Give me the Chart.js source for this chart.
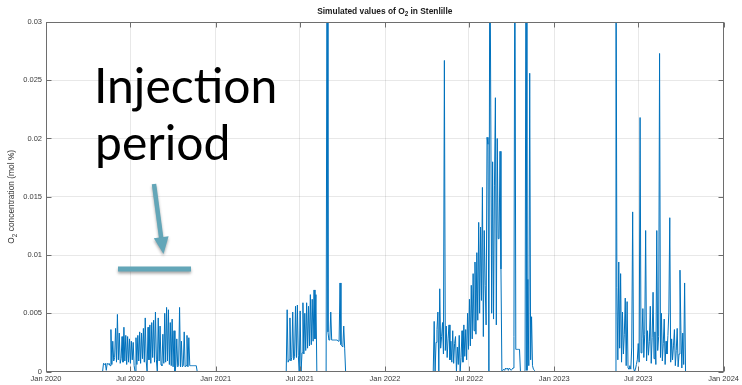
<!DOCTYPE html>
<html>
<head>
<meta charset="utf-8">
<title>Simulated values of O2 in Stenlille</title>
<script src="https://cdn.jsdelivr.net/npm/chart.js@4.4.1/dist/chart.umd.min.js"></script>
<style>
  html, body { margin: 0; padding: 0; background: #fff; }
  #wrap { position: relative; width: 742px; height: 385px; }
</style>
</head>
<body>
<div id="wrap"><canvas id="o2chart" width="742" height="385"></canvas></div>
<script>
// x is days since 1 Jan 2020, samples every 2 days inside each active period
const STEP_DAYS = 2;

const xTickDays = [0, 182, 366, 547, 731, 912, 1096, 1277, 1461];
const xTickLabels = ['Jan 2020', 'Jul 2020', 'Jan 2021', 'Jul 2021', 'Jan 2022',
                     'Jul 2022', 'Jan 2023', 'Jul 2023', 'Jan 2024'];
const yTickValues = [0, 0.005, 0.01, 0.015, 0.02, 0.025, 0.03];
const yTickLabels = ['0', '0.005', '0.01', '0.015', '0.02', '0.025', '0.03'];

// O2 in units of 1e-3 mol %, one array per active period
const start2020 = 122;
const o2Seg2020 = [
  0, 0.7, 0.6, 0.7, 0.1, 0.7, 0.6, 0.7, 0.5, 3.6,
  0.6, 2.6, 0.9, 1.2, 3.7, 0.8, 4.9, 1.0, 3.3, 0.7,
  1.1, 3.0, 0.8, 3.8, 0.9, 3.1, 0.6, 3.0, 0.8, 2.8,
  0.7, 2.6, 1.0, 2.5, 0.5, 0, 2.9, 0.6, 3.1, 0.9,
  3.4, 0.7, 3.3, 1.1, 3.7, 0.8, 4.6, 0.9, 0, 3.8,
  1.0, 4.0, 0.7, 4.2, 1.2, 4.4, 0.8, 5.1, 1.0, 0,
  4.6, 0.9, 3.9, 0.6, 0.5, 3.2, 0.7, 5.0, 0.8, 5.5,
  0.9, 5.3, 0.6, 4.2, 0.5, 4.5, 0.4, 3.5, 0, 0.5,
  2.8, 0.4, 0.5, 5.5, 0.4, 2.6, 0.4, 0.5, 3.4, 0.4,
  0.5, 3.1, 0.4, 2.9, 0.5, 0.5, 0.5, 0.5, 0.5, 0.5,
  0.5, 0.5, 0
];

const start2021 = 518;
const o2Seg2021 = [
  0, 5.3, 0.8, 1.0, 4.6, 0.9, 1.2, 5.1, 1.0, 1.3,
  5.6, 1.2, 5.7, 1.4, 0, 5.2, 0, 1.6, 5.9, 1.5,
  5.0, 1.8, 5.9, 2.0, 5.6, 2.2, 6.6, 2.3, 6.2, 2.6,
  7.0, 2.8, 6.6, 0, 0, 0, 0, 0, 0, 0,
  0, 0, 0, 0, 40, 3.4, 2.7, 2.7, 5.1, 2.7,
  2.7, 2.7, 2.7, 2.7, 2.7, 2.7, 2.6, 2.6, 7.6, 2.3,
  2.2, 2.1, 3.9, 2.0, 0
];

const start2022 = 835;
const o2Seg2022 = [
  0, 4.3, 0, 2.5, 3.6, 5.1, 0, 7.1, 2.0, 3.0,
  4.2, 1.5, 26.7, 1.8, 3.9, 1.2, 2.8, 4.0, 1.0, 2.6,
  0.8, 3.5, 0.7, 2.4, 3.0, 0, 2.1, 0.6, 3.1, 0,
  1.2, 3.5, 0.8, 4.0, 1.3, 3.6, 1.0, 5.0, 1.9, 6.2,
  2.2, 7.4, 2.8, 8.4, 3.5, 9.4, 3.2, 10.2, 4.4, 12.8,
  5.0, 12.4, 6.1, 15.8, 3.0, 12.1, 7.4, 4.0, 20.1, 19.5,
  0, 40, 22.7, 5.0, 18.0, 4.5, 16.0, 23.5, 4.0, 20.0,
  11.4, 11.4, 18.9, 8.8, 0, 0.1, 0.2, 0.1, 0.3, 0.2,
  0.3, 0.1, 0.3, 0.2, 0.1, 0.2, 0.3, 3.0, 40, 1.9,
  1.9, 1.9, 1.9, 1.9, 0, 0, 0, 0, 0, 0.1,
  40, 0.1, 7.9, 0.5, 25.6, 1.0, 4.7, 0.5, 0.2, 0.1,
  0, 0
];

const start2023 = 1227;
const o2Seg2023 = [
  0, 40, 7.2, 1.0, 9.4, 2.0, 8.4, 0.8, 5.1, 1.5,
  3.2, 6.3, 0.5, 6.0, 0.3, 0.2, 0.5, 0.2, 2.1, 13.7,
  0.3, 0, 0.2, 0.6, 1.0, 2.4, 0.8, 21.8, 1.6, 2.8,
  5.4, 1.2, 3.2, 12.1, 0.9, 3.5, 1.4, 2.6, 5.6, 0.7,
  2.9, 6.8, 1.1, 3.4, 0.6, 12.1, 1.8, 3.0, 27.3, 1.2,
  5.0, 0.9, 2.4, 4.5, 0.6, 2.6, 1.5, 3.1, 5.1, 13.2,
  0.8, 2.8, 1.0, 2.2, 3.6, 0.5, 1.8, 3.7, 0.4, 1.5,
  8.7, 3.5, 0.3, 3.3, 0.6, 7.6, 0
];

const segments = [
  [start2020, o2Seg2020],
  [start2021, o2Seg2021],
  [start2022, o2Seg2022],
  [start2023, o2Seg2023]
];

// flatten into one series; zero between the periods
const points = [{x: 0, y: 0}];
segments.forEach(([start, vals]) => {
  vals.forEach((v, i) => points.push({x: start + i * STEP_DAYS, y: v / 1000}));
});

const AXIS = '#6e6e6e';
const TEAL = '#63a6b8';

function setFont(ctx, size, bold) {
  ctx.font = (bold ? 'bold ' : '') + size + 'px "Liberation Sans", Arial, sans-serif';
}

// parts: [text, isSubscript]
function partsWidth(ctx, parts, size, bold) {
  let w = 0;
  parts.forEach(([t, sub]) => {
    setFont(ctx, sub ? size * 0.75 : size, bold);
    w += ctx.measureText(t).width;
  });
  return w;
}

function drawSub(ctx, parts, x, y, size, bold) {
  let cx = x;
  parts.forEach(([t, sub]) => {
    setFont(ctx, sub ? size * 0.75 : size, bold);
    ctx.fillText(t, cx, y + (sub ? size * 0.35 : 0));
    cx += ctx.measureText(t).width;
  });
}

const frame = {
  id: 'frame',
  afterDraw(chart) {
    const {ctx, chartArea: a, scales} = chart;
    const L = Math.round(a.left) + 0.5, R = Math.round(a.right) - 0.5;
    const T = Math.round(a.top) + 0.5, B = Math.round(a.bottom) - 0.5;
    ctx.save();

    // box and inward ticks
    ctx.strokeStyle = AXIS;
    ctx.lineWidth = 1;
    ctx.strokeRect(L, T, R - L, B - T);
    ctx.beginPath();
    xTickDays.forEach(d => {
      const px = Math.round(scales.x.getPixelForValue(d)) + 0.5;
      ctx.moveTo(px, B); ctx.lineTo(px, B - 5);
      ctx.moveTo(px, T); ctx.lineTo(px, T + 5);
    });
    yTickValues.forEach(v => {
      const py = Math.round(scales.y.getPixelForValue(v)) + 0.5;
      ctx.moveTo(L, py); ctx.lineTo(L + 5, py);
      ctx.moveTo(R, py); ctx.lineTo(R - 5, py);
    });
    ctx.stroke();

    // title
    ctx.fillStyle = '#1a1a1a';
    ctx.textBaseline = 'middle';
    ctx.textAlign = 'left';
    const title = [['Simulated values of O', false], ['2', true], [' in Stenlille', false]];
    const tw = partsWidth(ctx, title, 8.4, true);
    drawSub(ctx, title, (a.left + a.right) / 2 - tw / 2, 11.5, 8.4, true);

    // y axis label
    ctx.save();
    ctx.translate(12, (a.top + a.bottom) / 2);
    ctx.rotate(-Math.PI / 2);
    ctx.fillStyle = '#333';
    const ylab = [['O', false], ['2', true], [' concentration (mol %)', false]];
    const yw = partsWidth(ctx, ylab, 8.4, false);
    drawSub(ctx, ylab, -yw / 2, 0, 8.4, false);
    ctx.restore();

    // note over the plot; "Injec" and "tion" drawn apart so no ti ligature forms
    ctx.fillStyle = '#000';
    ctx.textBaseline = 'alphabetic';
    ctx.font = '48px Lato, "Open Sans", sans-serif';
    ctx.fillText('Injec', 94, 103);
    ctx.fillText('tion', 94 + ctx.measureText('Injec').width, 103);
    ctx.fillText('period', 95, 160);

    ctx.shadowColor = 'rgba(0,0,0,0.35)';
    ctx.shadowBlur = 3;
    ctx.shadowOffsetY = 2;
    ctx.strokeStyle = TEAL;
    ctx.fillStyle = TEAL;
    ctx.lineWidth = 4.5;
    ctx.beginPath();
    ctx.moveTo(154, 184);
    ctx.lineTo(161.2, 238);
    ctx.stroke();
    ctx.beginPath();
    ctx.moveTo(163.5, 254);
    ctx.lineTo(168.6, 236.2);
    ctx.lineTo(153.8, 238.2);
    ctx.closePath();
    ctx.fill();
    ctx.fillRect(118, 266.5, 73, 5);

    ctx.restore();
  }
};

new Chart(document.getElementById('o2chart'), {
  type: 'line',
  data: {
    datasets: [{
      data: points,
      borderColor: '#0072bd',
      borderWidth: 1,
      pointRadius: 0,
      tension: 0,
      clip: {left: 0, top: 0, right: 0, bottom: 1}
    }]
  },
  options: {
    responsive: false,
    animation: false,
    events: [],
    layout: {padding: {top: 22, right: 15, left: 0, bottom: 0}},
    plugins: {legend: {display: false}, title: {display: false}, tooltip: {enabled: false}},
    scales: {
      x: {
        type: 'linear',
        min: 0,
        max: 1461,
        afterBuildTicks: s => { s.ticks = xTickDays.map(v => ({value: v})); },
        afterFit: s => { s.height = 13.5; },
        grid: {color: 'rgba(0,0,0,0.09)', drawTicks: false},
        border: {display: false},
        ticks: {
          autoSkip: false,
          maxRotation: 0,
          padding: 3,
          color: '#3a3a3a',
          font: {family: '"Liberation Sans", Arial, sans-serif', size: 7.5},
          callback: v => xTickLabels[xTickDays.indexOf(v)]
        }
      },
      y: {
        type: 'linear',
        min: 0,
        max: 0.03,
        afterBuildTicks: s => { s.ticks = yTickValues.map(v => ({value: v})); },
        afterFit: s => { s.width = 46; },
        grid: {color: 'rgba(0,0,0,0.09)', drawTicks: false},
        border: {display: false},
        ticks: {
          padding: 4,
          color: '#3a3a3a',
          font: {family: '"Liberation Sans", Arial, sans-serif', size: 7.5},
          callback: v => yTickLabels[yTickValues.indexOf(v)]
        }
      }
    }
  },
  plugins: [frame]
});
</script>
</body>
</html>
